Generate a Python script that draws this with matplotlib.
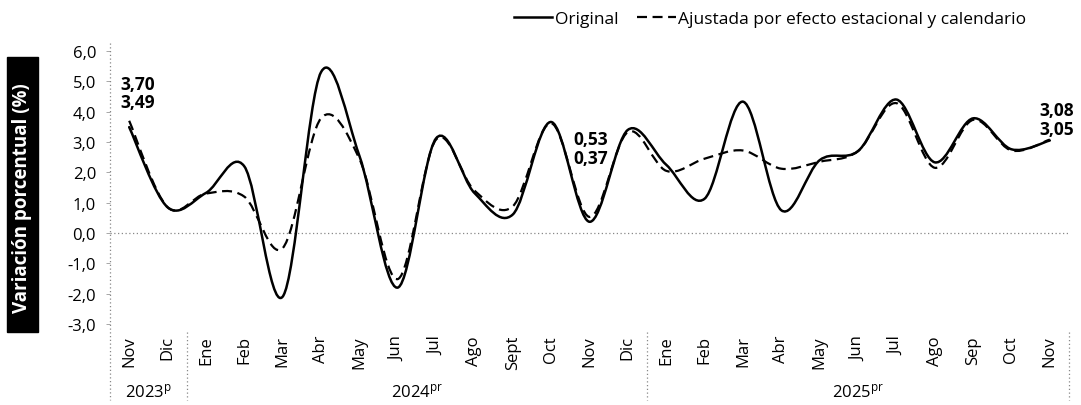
import numpy as np
import matplotlib
matplotlib.use("Agg")
import matplotlib.pyplot as plt
from matplotlib.path import Path
from matplotlib.patches import PathPatch, Rectangle
from matplotlib.lines import Line2D

plt.rcParams['font.family'] = ['Open Sans', 'DejaVu Sans']
plt.rcParams['mathtext.default'] = 'regular'

## data
months = ["Nov", "Dic",
          "Ene", "Feb", "Mar", "Abr", "May", "Jun", "Jul", "Ago", "Sept", "Oct", "Nov", "Dic",
          "Ene", "Feb", "Mar", "Abr", "May", "Jun", "Jul", "Ago", "Sep", "Oct", "Nov"]
years = ["2023$^{p}$", "2024$^{pr}$", "2025$^{pr}$"]
year_spans = [(0, 1), (2, 13), (14, 24)]  # first / last month index of each year

original = [3.49, 0.85, 1.32, 2.20, -2.10, 5.30, 2.55, -1.80, 3.12, 1.32, 0.61, 3.66, 0.37,
            3.40, 2.25, 1.13, 4.33, 0.75, 2.40, 2.70, 4.40, 2.33, 3.78, 2.76, 3.05]
ajustada = [3.70, 0.85, 1.30, 1.20, -0.50, 3.78, 2.45, -1.52, 3.08, 1.40, 0.88, 3.62, 0.53,
            3.33, 2.05, 2.45, 2.72, 2.12, 2.35, 2.70, 4.28, 2.15, 3.73, 2.72, 3.08]

# labelled points: index, top text, bottom text, offsets (pt) from the adjusted value
callouts = [(0, "3,70", "3,49", 6, 26.5, 13.3),
            (12, "0,53", "0,37", 1, 56, 42.5),
            (24, "3,08", "3,05", 5, 21.4, 7.7)]


def smooth_path(y):
    # excel-like smoothed line: catmull-rom as cubic bezier segments
    pts = np.column_stack([np.arange(len(y)), y]).astype(float)
    verts = [pts[0]]
    codes = [Path.MOVETO]
    n = len(pts)
    for i in range(n - 1):
        p0 = pts[max(i - 1, 0)]
        p1 = pts[i]
        p2 = pts[i + 1]
        p3 = pts[min(i + 2, n - 1)]
        verts += [p1 + (p2 - p0) / 6.0, p2 - (p3 - p1) / 6.0, p2]
        codes += [Path.CURVE4] * 3
    return Path(verts, codes)


fig = plt.figure(figsize=(10.81, 4.06), dpi=100)
W, H = 1081, 406
ax = fig.add_axes([110 / W, 1 - 325 / H, (1069 - 110) / W, (325 - 52) / H])

ax.add_patch(PathPatch(smooth_path(original), facecolor='none', edgecolor='black',
                       lw=1.8, capstyle='round'))
ax.add_patch(PathPatch(smooth_path(ajustada), facecolor='none', edgecolor='black',
                       lw=1.6, linestyle=(0, (4.5, 2.5))))

ax.set_xlim(-0.5, len(months) - 0.5)
ax.set_ylim(-3, 6)
ax.set_yticks(np.arange(-3, 7, 1))
ax.set_yticklabels([f"{v:.1f}".replace(".", ",") for v in np.arange(-3, 7, 1)])
ax.set_xticks(range(len(months)))
ax.set_xticklabels(months, rotation=90)
ax.tick_params(axis='x', length=0, pad=8, labelsize=12)
ax.tick_params(axis='y', length=3, width=0.6, color='#999999', pad=7, labelsize=12)

for s in ax.spines.values():
    s.set_visible(False)

# zero line and left axis, dotted grey
ax.axhline(0, color='#888888', lw=0.9, ls=(0, (1, 2)), zorder=0)
xt = ax.get_xaxis_transform()
ax.plot([-0.5, -0.5], [1.03, -0.28], transform=xt, clip_on=False,
        color='#888888', lw=0.9, ls=(0, (1, 2)))
for xs in [1.5, 13.5, 24.5]:
    ax.plot([xs, xs], [-0.03, -0.28], transform=xt, clip_on=False,
            color='#888888', lw=0.9, ls=(0, (1, 2)))

# year labels
for lab, (a, b) in zip(years, year_spans):
    ax.text((a + b) / 2, -0.245, lab, transform=xt, ha='center', va='center', fontsize=12)

# value callouts
for i, top, bottom, dx, dy_top, dy_bot in callouts:
    ax.annotate(top, (i, ajustada[i]), xytext=(dx, dy_top), textcoords='offset points',
                ha='center', va='center', fontsize=12.5, fontweight='bold')
    ax.annotate(bottom, (i, ajustada[i]), xytext=(dx, dy_bot), textcoords='offset points',
                ha='center', va='center', fontsize=12.5, fontweight='bold')

# y label in black box
fig.patches.append(Rectangle((7 / W, 1 - 333 / H), 31 / W, 275 / H,
                             transform=fig.transFigure, color='black', zorder=0))
fig.text(22.5 / W, 1 - 198 / H, "Variación porcentual (%)", rotation=90,
         ha='center', va='center', color='white', fontsize=13.5, fontweight='bold')

# legend
handles = [Line2D([], [], color='black', lw=1.8),
           Line2D([], [], color='black', lw=1.6, ls=(0, (4.5, 2.5)))]
fig.legend(handles, ["Original", "Ajustada por efecto estacional y calendario"],
           loc='upper right', bbox_to_anchor=(1042 / W, 1.01), ncol=2, frameon=False,
           fontsize=12.5, handlelength=2.2, handletextpad=0.15, columnspacing=1.1)

fig.savefig("out.png", dpi=100)
